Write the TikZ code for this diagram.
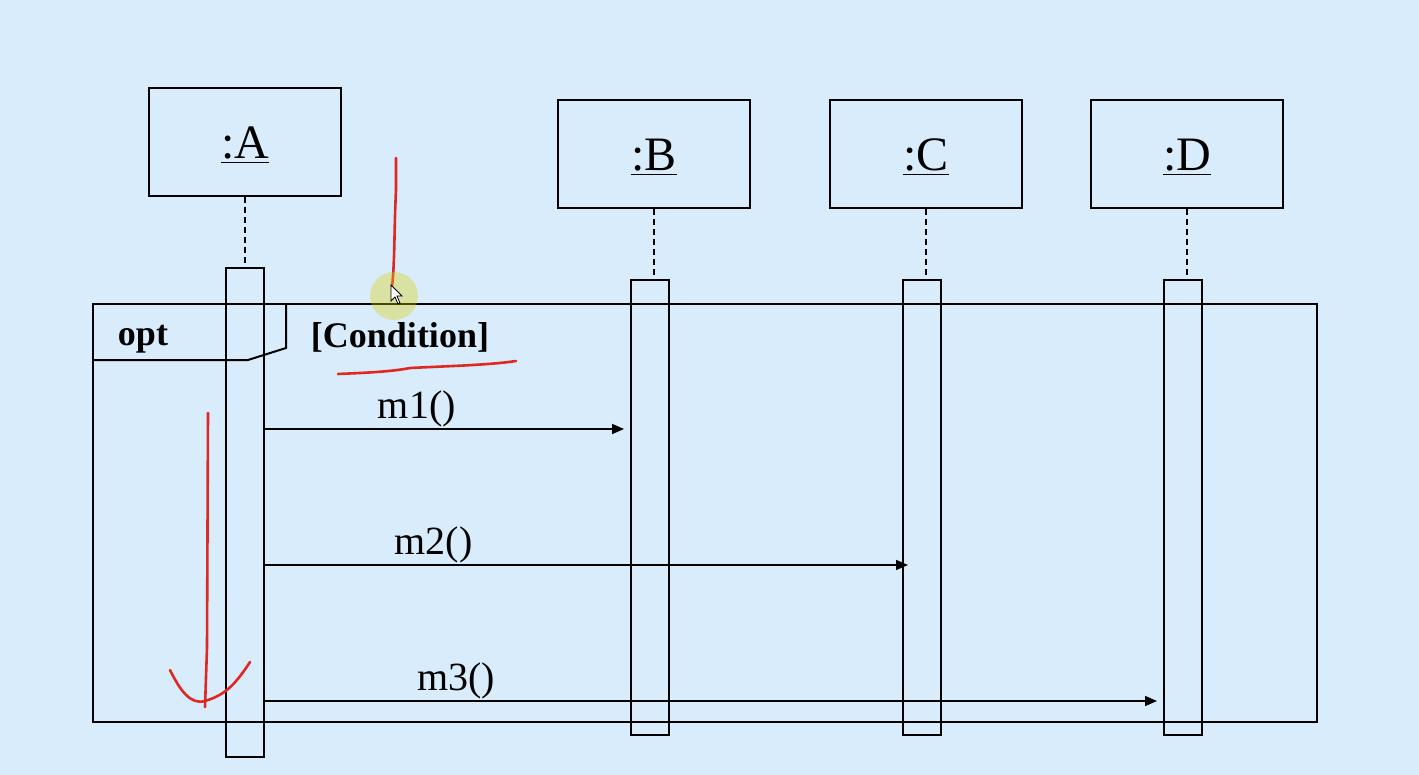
\documentclass[tikz,border=0pt]{standalone}
\usepackage{fontspec}
\setmainfont{Liberation Serif}
\usetikzlibrary{arrows.meta}
\definecolor{bgblue}{RGB}{217,236,251}
\definecolor{penred}{RGB}{222,40,32}
\tikzset{
  obj/.style={draw,line width=1pt,minimum width=96pt,minimum height=54pt,inner sep=0pt,
    text height=17pt,text depth=0pt,font=\fontsize{24}{27}\selectfont},
  act/.style={draw,line width=1pt,minimum width=19pt,inner sep=0pt},
  life/.style={line width=0.8pt,dash pattern=on 3pt off 2pt},
  msg/.style={line width=0.8pt,-{Triangle[length=6pt,width=5pt]}},
  lbl/.style={font=\fontsize{20}{23}\selectfont,inner sep=0pt,above=0.5pt},
  tag/.style={font=\bfseries\fontsize{18}{21}\selectfont,inner sep=0pt,anchor=base},
  pen/.style={penred,line width=1.3pt,line cap=round,line join=round}
}
\begin{document}
\begin{tikzpicture}[x=0.5pt,y=-0.5pt]
\fill[bgblue] (0,0) rectangle (1419,775);
% objects
\node[obj] (a) at (245,142) {\underline{:A}};
\node[obj] (b) at (654,154) {\underline{:B}};
\node[obj] (c) at (926,154) {\underline{:C}};
\node[obj] (d) at (1187,154) {\underline{:D}};
% frame
\draw[line width=1pt] (93,304) rectangle (1317,722);
\draw[line width=1pt] (93,360) -- (248,360) -- (286,348) -- (286,304);
\node[tag] (opt) at (143,345) {opt};
\node[tag] (cond) at (400,347) {[Condition]};
% activations
\node[act,minimum height=244.5pt] (actA) at (245,512.5) {};
\node[act,minimum height=227.5pt] (actB) at (650,507.5) {};
\node[act,minimum height=227.5pt] (actC) at (922,507.5) {};
\node[act,minimum height=227.5pt] (actD) at (1183,507.5) {};
\draw[life] (a.south) -- (actA.north);
\draw[life] (b.south) -- (b.south |- actB.north);
\draw[life] (c.south) -- (c.south |- actC.north);
\draw[life] (d.south) -- (d.south |- actD.north);
% messages
\draw[msg] (actA.east |- 0,429) -- node[lbl,pos=0.423] (m1) {m1()} ([xshift=-3pt]actB.west |- 0,429);
\draw[msg] (actA.east |- 0,565) -- node[lbl,pos=0.262] (m2) {m2()} ([xshift=3pt]actC.west |- 0,565);
\draw[msg] (actA.east |- 0,701) -- node[lbl,pos=0.2145] (m3) {m3()} ([xshift=-3pt]actD.west |- 0,701);
% pen marks
\draw[pen] (396,158) -- (396,190) .. controls (394,230) and (395,260) .. (392,287);
\draw[pen] (338,374) .. controls (360,373) and (390,372) .. (410,368) .. controls (450,366) and (490,365) .. (516,361);
\draw[pen] (208,413) -- (207,648) -- (205,707);
\draw[pen] (170,670) .. controls (180,690) and (190,705) .. (205,701) .. controls (225,695) and (235,685) .. (250,662);
% pointer
\fill[yellow!70!olive,opacity=0.35] (394,296) circle (12pt);
\filldraw[fill=white,draw=black,line width=0.4pt] (391,285) -- (391,301) -- (395,297) -- (398,304) -- (400,303) -- (397,296) -- (402,296) -- cycle;
\end{tikzpicture}
\end{document}
